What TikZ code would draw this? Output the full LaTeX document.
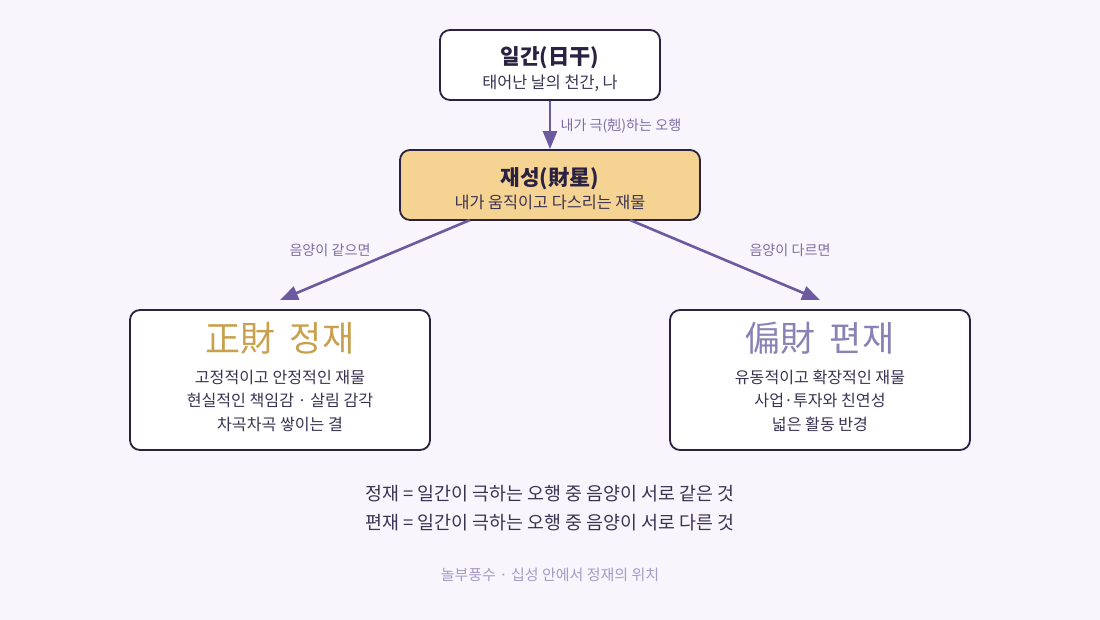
\documentclass[tikz,border=0pt]{standalone}
\usepackage{fontspec}
\setmainfont{Noto Sans CJK KR}
\usetikzlibrary{arrows.meta,positioning}

\definecolor{bgcol}{HTML}{F8F5FC}
\definecolor{inkcol}{HTML}{2B2140}
\definecolor{textcol}{HTML}{3B3352}
\definecolor{arrowcol}{HTML}{6B5B9E}
\definecolor{labelcol}{HTML}{7C6FA3}
\definecolor{goldcol}{HTML}{C9A04E}
\definecolor{lavcol}{HTML}{8A82B5}
\definecolor{fillgold}{HTML}{F5D393}
\definecolor{footcol}{HTML}{A59BC6}

\tikzset{
  box/.style={draw=inkcol, line width=1.8pt, rounded corners=10pt, fill=white, inner sep=0pt},
  titletext/.style={font=\fontsize{21.3}{25}\selectfont\bfseries, text=inkcol},
  subtext/.style={font=\fontsize{16.3}{19}\selectfont, text=textcol},
  bigtitle/.style={font=\fontsize{35}{40}\selectfont},
  linetext/.style={font=\fontsize{16.1}{19}\selectfont, text=textcol},
  edgelabel/.style={font=\fontsize{14.1}{17}\selectfont, text=labelcol},
  link/.style={draw=arrowcol, line width=2.6pt, -{Triangle[length=18pt,width=14pt]}}
}

\begin{document}
\begin{tikzpicture}[x=1pt,y=-1pt]

    \fill[bgcol] (0,0) rectangle (1100,620);
    \useasboundingbox (0,0) rectangle (1100,620);

    % boxes
    \node[box, minimum width=220pt, minimum height=70pt] (ilgan) at (550,65) {};
    \node[box, fill=fillgold, minimum width=300pt, minimum height=70pt] (jaeseong) at (550,185) {};
    \node[box, minimum width=300pt, minimum height=140pt] (jeongjae) at (280,380) {};
    \node[box, minimum width=300pt, minimum height=140pt] (pyeonjae) at (820,380) {};

    % box texts
    \node[titletext] (ilganT) at (550,58) {일간(日干)};
    \node[subtext] (ilganS) at (550,83) {태어난 날의 천간, 나};
    \node[titletext] (jaeseongT) at (550,179) {재성(財星)};
    \node[subtext] (jaeseongS) at (550,202) {내가 움직이고 다스리는 재물};

    \node[bigtitle, text=goldcol] (jeongjaeT) at (280,338) {正財\hspace{14pt}정재};
    \node[linetext] (jeongjaeA) at (280,377) {고정적이고 안정적인 재물};
    \node[linetext] (jeongjaeB) at (280,400) {현실적인 책임감 · 살림 감각};
    \node[linetext] (jeongjaeC) at (280,424) {차곡차곡 쌓이는 결};

    \node[bigtitle, text=lavcol] (pyeonjaeT) at (820,338) {偏財\hspace{14pt}편재};
    \node[linetext] (pyeonjaeA) at (820,377) {유동적이고 확장적인 재물};
    \node[linetext] (pyeonjaeB) at (820,400) {사업·투자와 친연성};
    \node[linetext] (pyeonjaeC) at (820,424) {넓은 활동 반경};

    % connectors
    \coordinate (lstart) at (470,220);
    \coordinate (ltip) at (280,300);
    \coordinate (rstart) at (630,220);
    \coordinate (rtip) at (820,300);

    \draw[link] (ilgan.south) -- (jaeseong.north);
    \draw[link] (lstart) -- (ltip);
    \draw[link] (rstart) -- (rtip);

    \node[edgelabel, anchor=west] (geuk) at (557,126) {내가 극(剋)하는 오행};
    \node[edgelabel] (same) at (330,250) {음양이 같으면};
    \node[edgelabel] (diff) at (790,250) {음양이 다르면};

    % notes
    \node[font=\fontsize{18.4}{22}\selectfont, text=textcol] (noteA) at (550,494) {정재 = 일간이 극하는 오행 중 음양이 서로 같은 것};
    \node[font=\fontsize{18.4}{22}\selectfont, text=textcol] (noteB) at (550,523) {편재 = 일간이 극하는 오행 중 음양이 서로 다른 것};
    \node[font=\fontsize{15}{18}\selectfont, text=footcol] (foot) at (550,575) {놀부풍수 · 십성 안에서 정재의 위치};

\end{tikzpicture}
\end{document}
